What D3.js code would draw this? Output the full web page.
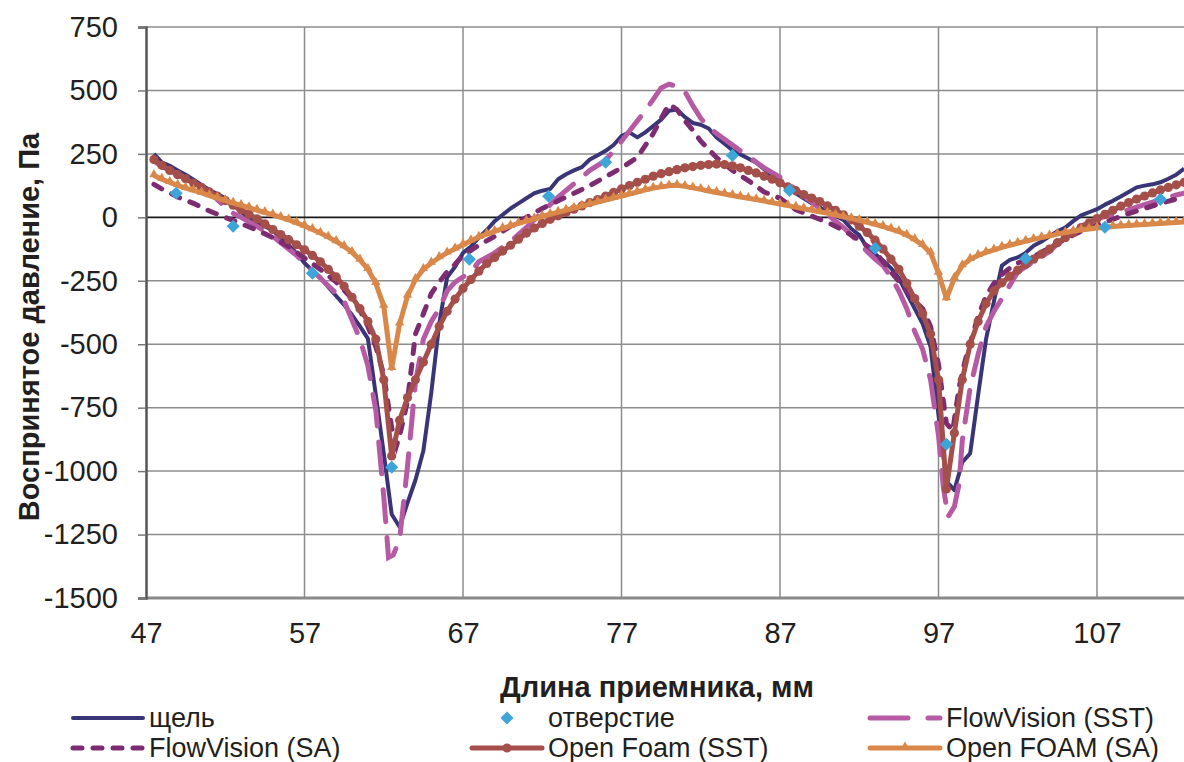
<!DOCTYPE html>
<html>
<head>
<meta charset="utf-8">
<script src="https://cdn.jsdelivr.net/npm/d3@7"></script>
<style>
  body { margin: 0; background: #fff; }
  text { font-family: "Liberation Sans", Arial, sans-serif; fill: #231f20; }
</style>
</head>
<body>
<svg></svg>
<script>
// ---- data ----
const xTicks = [47, 57, 67, 77, 87, 97, 107];
const yTicks = [750, 500, 250, 0, -250, -500, -750, -1000, -1250, -1500];

// щель
const schel = [[47.5,250],[48,217],[48.5,203],[49,185],[49.5,168],[50,148],[50.5,128],[51,108],[51.5,92],[52,75],[52.5,50],[53,22],[53.5,-5],[54,-20],[54.5,-35],[55,-52],[55.5,-80],[56,-110],[56.5,-142],[57,-180],[57.5,-210],[58,-236],[58.5,-275],[59,-310],[59.5,-345],[60,-385],[60.5,-430],[61,-478],[61.5,-700],[62,-930],[62.5,-1170],[63,-1220],[63.5,-1125],[64,-1035],[64.5,-920],[65,-690],[65.5,-420],[66,-236],[66.5,-195],[67,-140],[67.5,-115],[68,-80],[68.5,-50],[69,-15],[69.5,10],[70,35],[70.5,55],[71,75],[71.5,95],[72,105],[72.5,112],[73,150],[73.5,170],[74,185],[74.5,198],[75,228],[75.5,245],[76,262],[76.5,285],[77,320],[77.5,335],[78,315],[78.5,335],[79,360],[79.5,385],[80,420],[80.5,425],[81,395],[81.5,372],[82,365],[82.5,350],[83,315],[83.5,290],[84,264],[84.5,248],[85,232],[85.5,215],[86,190],[86.5,162],[87,140],[87.5,115],[88,95],[88.5,75],[89,55],[89.5,40],[90,20],[90.5,5],[91,-10],[91.5,-45],[92,-70],[92.5,-120],[93,-145],[93.5,-170],[94,-200],[94.5,-240],[95,-300],[95.5,-360],[96,-420],[96.5,-510],[97,-780],[97.5,-1040],[98,-1075],[98.5,-965],[99,-930],[99.5,-700],[100,-480],[100.5,-330],[101,-190],[101.5,-168],[102,-158],[102.5,-140],[103,-112],[103.5,-95],[104,-75],[104.5,-55],[105,-40],[105.5,-15],[106,8],[106.5,20],[107,32],[107.5,50],[108,65],[108.5,82],[109,100],[109.5,118],[110,125],[110.5,130],[111,138],[111.5,152],[112,168],[112.5,192]];

// отверстие
const otv = [[48.9,95],[52.5,-35],[57.5,-220],[62.5,-985],[67.4,-165],[72.4,83],[76,217],[84,244],[87.6,106],[93,-122],[97.5,-894],[102.5,-162],[107.5,-39],[111,71]];

// FlowVision (SST)
const fvSST = [[47.5,222],[48,200],[49,172],[50,140],[51,100],[52,40],[52.5,16],[53,0],[54,-35],[55,-75],[55.5,-100],[56,-125],[56.5,-150],[57,-180],[58,-240],[59,-300],[59.5,-330],[60,-405],[60.5,-480],[61,-585],[61.5,-760],[62,-1100],[62.3,-1340],[62.6,-1330],[63,-1270],[63.5,-980],[64,-650],[64.5,-480],[65,-410],[65.5,-360],[66,-290],[66.5,-255],[67,-235],[67.5,-215],[68,-175],[69,-140],[70,-95],[71,-40],[72,20],[73,80],[74,132],[75,185],[76,225],[77,300],[77.5,340],[78,380],[78.5,420],[79,465],[79.5,510],[80,525],[80.5,515],[81,495],[81.5,440],[82,390],[82.5,355],[83,330],[84,285],[85,240],[86,195],[87,158],[88,110],[89,60],[90,10],[91,-40],[92,-100],[92.5,-135],[93,-165],[93.5,-190],[94,-235],[94.5,-290],[95,-360],[95.5,-450],[96,-520],[96.5,-640],[97,-860],[97.3,-1060],[97.6,-1180],[98,-1140],[98.3,-1050],[98.5,-880],[99,-670],[99.5,-540],[100,-430],[100.5,-370],[101,-320],[102,-215],[103,-175],[104,-135],[104.5,-105],[105,-80],[106,-35],[107,-5],[108,10],[109,30],[110,50],[111,70],[112,88],[112.5,95]];

// FlowVision (SA)
const fvSA = [[47.5,130],[48,112],[49,80],[50,55],[51,25],[52,0],[53,-25],[54,-50],[55,-80],[56,-115],[57,-160],[58,-205],[59,-255],[60,-320],[60.5,-366],[61,-430],[61.5,-510],[62,-620],[62.5,-830],[62.8,-900],[63,-860],[63.3,-780],[63.5,-721],[64,-460],[64.5,-380],[65,-300],[65.5,-255],[66,-215],[66.5,-185],[67,-150],[68,-110],[69,-75],[70,-35],[71,0],[72,35],[73,65],[74,95],[75,125],[76,160],[77,195],[78,236],[79,330],[79.5,390],[80,445],[80.5,425],[81,380],[81.5,343],[82,300],[82.5,268],[83,235],[84,185],[85,145],[86,100],[87,75],[88,30],[89,5],[90,-20],[91,-51],[92,-90],[93,-135],[94,-215],[95,-290],[95.5,-330],[96,-360],[96.5,-430],[97,-580],[97.3,-721],[97.5,-812],[97.9,-840],[98.3,-670],[98.7,-560],[99,-496],[99.5,-390],[100,-310],[100.5,-260],[101,-225],[101.5,-200],[102,-180],[103,-155],[104,-120],[105,-85],[106,-55],[107,-30],[108,-8],[109,15],[110,35],[111,55],[112,72],[112.5,79]];

// Open Foam (SST)
const ofSST = [[47.5,228],[48,205],[48.5,185],[49,168],[49.5,152],[50,135],[50.5,118],[51,100],[51.5,84],[52,66],[52.5,48],[53,30],[53.5,12],[54,-6],[54.5,-26],[55,-48],[55.5,-68],[56,-88],[56.5,-108],[57,-128],[57.5,-150],[58,-175],[58.5,-205],[59,-235],[59.5,-272],[60,-315],[60.5,-360],[61,-410],[61.5,-480],[62,-640],[62.5,-940],[63,-800],[63.5,-710],[64,-640],[64.5,-570],[65,-500],[65.5,-430],[66,-370],[66.5,-322],[67,-280],[67.5,-245],[68,-212],[68.5,-182],[69,-158],[69.5,-133],[70,-110],[70.5,-86],[71,-62],[71.5,-42],[72,-24],[72.5,-8],[73,6],[73.5,19],[74,32],[74.5,45],[75,58],[75.5,70],[76,84],[76.5,98],[77,112],[77.5,125],[78,138],[78.5,150],[79,162],[79.5,172],[80,180],[80.5,188],[81,195],[81.5,200],[82,205],[82.5,208],[83,210],[83.5,208],[84,203],[84.5,195],[85,185],[85.5,175],[86,162],[86.5,150],[87,136],[87.5,120],[88,105],[88.5,90],[89,76],[89.5,62],[90,45],[90.5,28],[91,10],[91.5,-10],[92,-35],[92.5,-60],[93,-90],[93.5,-125],[94,-165],[94.5,-205],[95,-260],[95.5,-320],[96,-380],[96.5,-460],[97,-640],[97.5,-1070],[98,-850],[98.5,-640],[99,-500],[99.5,-410],[100,-340],[100.5,-290],[101,-258],[101.5,-232],[102,-208],[102.5,-185],[103,-165],[103.5,-145],[104,-125],[104.5,-100],[105,-80],[105.5,-60],[106,-40],[106.5,-22],[107,-5],[107.5,12],[108,28],[108.5,44],[109,58],[109.5,72],[110,84],[110.5,96],[111,108],[111.5,118],[112,128],[112.5,138]];

// Open FOAM (SA)
const ofSA = [[47.5,165],[48,150],[48.5,138],[49,126],[49.5,115],[50,106],[50.5,96],[51,86],[51.5,76],[52,66],[52.5,56],[53,47],[53.5,38],[54,28],[54.5,19],[55,10],[55.5,0],[56,-10],[56.5,-22],[57,-34],[57.5,-48],[58,-62],[58.5,-78],[59,-95],[59.5,-115],[60,-138],[60.5,-168],[61,-205],[61.5,-260],[62,-350],[62.5,-595],[63,-420],[63.5,-310],[64,-245],[64.5,-205],[65,-180],[65.5,-158],[66,-140],[66.5,-124],[67,-108],[67.5,-92],[68,-78],[68.5,-66],[69,-55],[69.5,-44],[70,-34],[70.5,-24],[71,-15],[71.5,-6],[72,4],[72.5,12],[73,20],[73.5,28],[74,36],[74.5,44],[75,52],[75.5,60],[76,68],[76.5,76],[77,84],[77.5,92],[78,100],[78.5,108],[79,115],[79.5,120],[80,124],[80.5,126],[81,122],[81.5,116],[82,110],[82.5,104],[83,98],[83.5,92],[84,86],[84.5,80],[85,75],[85.5,70],[86,64],[86.5,58],[87,52],[87.5,46],[88,40],[88.5,34],[89,28],[89.5,22],[90,16],[90.5,9],[91,2],[91.5,-5],[92,-12],[92.5,-20],[93,-28],[93.5,-36],[94,-46],[94.5,-56],[95,-70],[95.5,-88],[96,-110],[96.5,-140],[97,-220],[97.5,-320],[98,-240],[98.5,-190],[99,-165],[99.5,-150],[100,-138],[100.5,-128],[101,-118],[101.5,-110],[102,-102],[102.5,-94],[103,-87],[103.5,-80],[104,-73],[104.5,-66],[105,-60],[105.5,-55],[106,-50],[106.5,-46],[107,-42],[107.5,-39],[108,-36],[108.5,-34],[109,-32],[109.5,-30],[110,-28],[110.5,-26],[111,-24],[111.5,-22],[112,-20],[112.5,-18]];

const xLabel = 'Длина приемника, мм';
const yLabel = 'Воспринятое давление, Па';

// ---- setup ----
const width = 1184, height = 762;
const svg = d3.select('svg').attr('width', width).attr('height', height);

const x = d3.scaleLinear().domain([47, 113]).range([146, 146 + 66 * 15.85]);
const y = d3.scaleLinear().domain([-1500, 750]).range([598, 27]);

const colors = {
  schel: '#3a3576', otv: '#3ea5d9', fvSST: '#b65ba3',
  fvSA: '#7e2c72', ofSST: '#a54f4a', ofSA: '#d9884a'
};
const font = '"Liberation Sans", Arial, sans-serif';

// grid
const grid = svg.append('g');
grid.selectAll('.hg').data(yTicks.filter(v => v !== 0 && v !== -1500))
  .enter().append('line')
  .attr('x1', 146).attr('x2', width)
  .attr('y1', d => y(d)).attr('y2', d => y(d))
  .attr('stroke', '#8c8c8c').attr('stroke-width', 1.5);
grid.selectAll('.vg').data(xTicks.slice(1))
  .enter().append('line')
  .attr('x1', d => x(d)).attr('x2', d => x(d))
  .attr('y1', y(750)).attr('y2', y(-1500))
  .attr('stroke', '#8c8c8c').attr('stroke-width', 1.5);

// bottom axis line + zero line
svg.append('line').attr('x1', 146).attr('x2', width)
  .attr('y1', y(-1500)).attr('y2', y(-1500))
  .attr('stroke', '#8a8a8a').attr('stroke-width', 3);
svg.append('line').attr('x1', 146).attr('x2', width)
  .attr('y1', y(0)).attr('y2', y(0))
  .attr('stroke', '#1a1a1a').attr('stroke-width', 1.8);

// y axis
const yAxis = d3.axisLeft(y).tickValues(yTicks).tickSize(8).tickPadding(20)
  .tickFormat(d => String(d));
const yAxisG = svg.append('g').attr('transform', 'translate(146,0)').call(yAxis);
yAxisG.select('.domain').attr('stroke', '#555').attr('stroke-width', 2.5);
yAxisG.selectAll('.tick line').attr('stroke', '#777').attr('stroke-width', 1.5);
yAxisG.selectAll('.tick text').attr('font-size', 29)
  .attr('font-family', font).attr('fill', '#231f20');

// x axis labels
const xAxis = d3.axisBottom(x).tickValues(xTicks).tickSize(0).tickPadding(24)
  .tickFormat(d => String(d));
const xAxisG = svg.append('g').attr('transform', `translate(0,${y(-1500)})`).call(xAxis);
xAxisG.select('.domain').remove();
xAxisG.selectAll('.tick text').attr('font-size', 29)
  .attr('font-family', font).attr('fill', '#231f20');

// axis titles
svg.append('text').attr('x', 657).attr('y', 697)
  .attr('text-anchor', 'middle').attr('font-size', 29).attr('font-weight', 'bold')
  .text(xLabel);
svg.append('text').attr('transform', 'translate(39,327) rotate(-90)')
  .attr('text-anchor', 'middle').attr('font-size', 29).attr('font-weight', 'bold')
  .text(yLabel);

// ---- series ----
const plot = svg.append('g');
const line = d3.line().x(d => x(d[0])).y(d => y(d[1]));

plot.append('path').datum(schel).attr('d', line)
  .attr('fill', 'none').attr('stroke', colors.schel).attr('stroke-width', 4)
  .attr('stroke-linejoin', 'round');

plot.append('path').datum(fvSST).attr('d', line)
  .attr('fill', 'none').attr('stroke', colors.fvSST).attr('stroke-width', 5)
  .attr('stroke-dasharray', '32,16').attr('stroke-linecap', 'round');

plot.append('path').datum(fvSA).attr('d', line)
  .attr('fill', 'none').attr('stroke', colors.fvSA).attr('stroke-width', 5)
  .attr('stroke-dasharray', '9,11').attr('stroke-linecap', 'round');

plot.append('path').datum(ofSST).attr('d', line)
  .attr('fill', 'none').attr('stroke', colors.ofSST).attr('stroke-width', 5)
  .attr('stroke-linejoin', 'round');
plot.selectAll('.ofc').data(ofSST).enter().append('circle')
  .attr('cx', d => x(d[0])).attr('cy', d => y(d[1])).attr('r', 4.6)
  .attr('fill', colors.ofSST);

plot.append('path').datum(ofSA).attr('d', line)
  .attr('fill', 'none').attr('stroke', colors.ofSA).attr('stroke-width', 5)
  .attr('stroke-linejoin', 'round');
const tri = d3.symbol().type(d3.symbolTriangle).size(38);
plot.selectAll('.oft').data(ofSA).enter().append('path')
  .attr('d', tri)
  .attr('transform', d => `translate(${x(d[0])},${y(d[1]) - 1})`)
  .attr('fill', colors.ofSA);

const diamond = d3.symbol().type(d3.symbolDiamond2).size(110);
plot.selectAll('.dia').data(otv).enter().append('path')
  .attr('d', diamond)
  .attr('transform', d => `translate(${x(d[0])},${y(d[1])})`)
  .attr('fill', colors.otv);

// ---- legend ----
const legendItems = [
  { name: 'щель', key: 'schel', col: 0, row: 0 },
  { name: 'отверстие', key: 'otv', col: 1, row: 0 },
  { name: 'FlowVision (SST)', key: 'fvSST', col: 2, row: 0 },
  { name: 'FlowVision (SA)', key: 'fvSA', col: 0, row: 1 },
  { name: 'Open Foam (SST)', key: 'ofSST', col: 1, row: 1 },
  { name: 'Open FOAM (SA)', key: 'ofSA', col: 2, row: 1 }
];
const colX = [73, 472, 870];
const rowY = [718, 748];
const leg = svg.append('g');
legendItems.forEach(it => {
  const x0 = colX[it.col], yy = rowY[it.row], x1 = x0 + 70, xm = (x0 + x1) / 2;
  const c = colors[it.key];
  if (it.key === 'otv') {
    leg.append('path').attr('d', diamond).attr('transform', `translate(${xm},${yy})`).attr('fill', c);
  } else {
    const l = leg.append('line').attr('x1', x0).attr('x2', x1).attr('y1', yy).attr('y2', yy)
      .attr('stroke', c).attr('stroke-width', it.key === 'schel' ? 4 : 5).attr('stroke-linecap', 'round');
    if (it.key === 'fvSST') l.attr('stroke-dasharray', '38,20');
    if (it.key === 'fvSA') l.attr('stroke-dasharray', '9,11');
    if (it.key === 'ofSST') leg.append('circle').attr('cx', xm).attr('cy', yy).attr('r', 4.6).attr('fill', c);
    if (it.key === 'ofSA') leg.append('path').attr('d', tri).attr('transform', `translate(${xm},${yy - 1})`).attr('fill', c);
  }
  leg.append('text').attr('x', x1 + 6).attr('y', yy).attr('dy', '0.35em')
    .attr('font-size', 27).text(it.name);
});
</script>
</body>
</html>
